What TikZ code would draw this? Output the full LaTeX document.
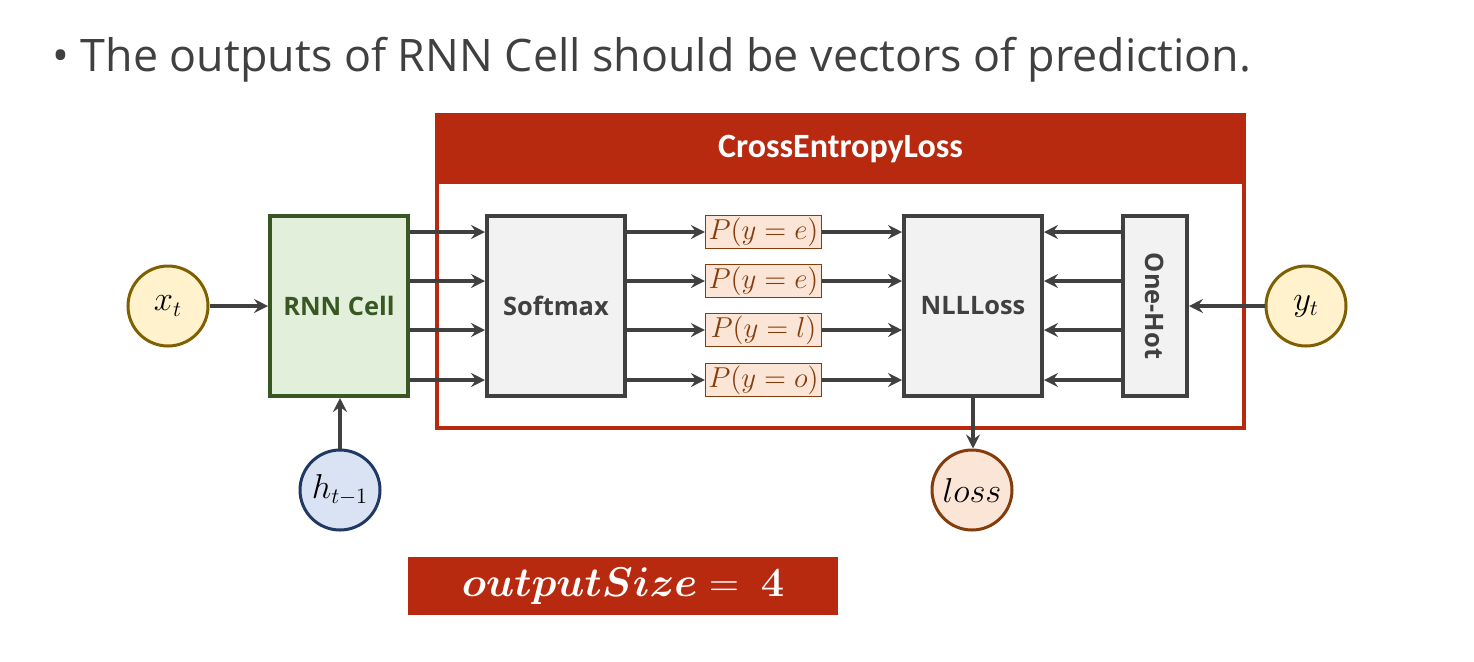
\documentclass[tikz,border=0pt]{standalone}
\usepackage{amsmath,amssymb}
\usepackage{bm}
\usepackage{fontspec}
\setmainfont{Open Sans}
\newfontfamily\headfont{Carlito}
\usetikzlibrary{arrows.meta,positioning,calc}
\definecolor{nnRed}{RGB}{184,42,16}
\definecolor{nnGray}{RGB}{64,64,64}
\definecolor{nnFill}{RGB}{242,242,242}
\definecolor{nnGreen}{RGB}{56,87,35}
\definecolor{nnGreenFill}{RGB}{226,239,218}
\definecolor{nnGold}{RGB}{127,96,0}
\definecolor{nnYellow}{RGB}{255,242,204}
\definecolor{nnNavy}{RGB}{31,56,100}
\definecolor{nnBlue}{RGB}{218,227,243}
\definecolor{nnBrown}{RGB}{132,60,12}
\definecolor{nnPeach}{RGB}{251,229,214}
\tikzset{
  nn/block/.style={draw=nnGray, fill=nnFill, line width=2pt, minimum width=69pt, minimum height=90pt, inner sep=0pt, align=center, text=nnGray, font=\fontsize{12.7}{15}\selectfont\bfseries},
  nn/cell/.style={nn/block, draw=nnGreen, fill=nnGreenFill, text=nnGreen},
  nn/var/.style={circle, line width=1.5pt, minimum size=40pt, inner sep=0pt, font=\fontsize{16}{18}\selectfont},
  nn/input/.style={nn/var, draw=nnGold, fill=nnYellow},
  nn/hidden/.style={nn/var, draw=nnNavy, fill=nnBlue},
  nn/output/.style={nn/var, draw=nnBrown, fill=nnPeach},
  nn/prob/.style={draw=nnBrown, fill=nnPeach, line width=0.6pt, minimum width=58pt, minimum height=16.5pt, inner sep=0pt, text=nnBrown, font=\fontsize{14}{16}\selectfont},
  nn/flow/.style={draw=nnGray, line width=1.8pt, -{Stealth[length=7pt,width=7pt,inset=2.5pt]}},
  nn/banner/.style={fill=nnRed, text=white, inner sep=0pt}
}
\begin{document}
\begin{tikzpicture}[x=0.5pt, y=-0.5pt]
  \useasboundingbox[fill=white] (0,0) rectangle (1474,661);

  % heading line
  \node[anchor=west, text=nnGray, inner sep=0pt, font=\fontsize{22.4}{26}\selectfont] (title) at (52,60)
    {\textbullet\ The outputs of RNN Cell should be vectors of prediction.};

  % loss module frame
  \node[draw=nnRed, line width=1.8pt, minimum width=403.5pt, minimum height=156.5pt] (ce) at (840.5,271.5) {};
  \node[nn/banner, anchor=north, minimum width=403.5pt, minimum height=35pt, font=\headfont\fontsize{17}{20}\selectfont\bfseries] (cehead) at (ce.north) {CrossEntropyLoss};

  % blocks
  \node[nn/input] (xt) at (168,306) {$x_t$};
  \node[nn/cell] (rnn) at (339,306) {RNN Cell};
  \node[nn/block] (soft) at (556,306) {Softmax};
  \node[nn/block] (nll) at (973,306) {NLLLoss};
  \node[nn/block, minimum width=32pt] (hot) at (1155,306) {\rotatebox{-90}{One-Hot}};
  \node[nn/input] (yt) at (1306,306) {$y_t$};
  \node[nn/hidden] (h) at (340,490) {$h_{t-1}$};
  \node[nn/output] (loss) at (972,490) {$loss$};

  % one probability per character
  \foreach \i/\yy/\ch in {1/232/e, 2/281/e, 3/330/l, 4/380/o} {
    \node[nn/prob] (p\i) at (763.5,\yy) {$P(y=\ch)$};
    \draw[nn/flow] (rnn.east |- p\i) -- (soft.west |- p\i);
    \draw[nn/flow] (soft.east |- p\i) -- (p\i);
    \draw[nn/flow] (p\i) -- (nll.west |- p\i);
    \draw[nn/flow] (hot.west |- p\i) -- (nll.east |- p\i);
  }

  \draw[nn/flow] (xt) -- (rnn);
  \draw[nn/flow] (yt) -- (hot);
  \draw[nn/flow] (h.north) -- (h.north |- rnn.south);
  \draw[nn/flow] (nll.south) -- (nll.south |- loss.north);

  \node[nn/banner, minimum width=215pt, minimum height=29pt, font=\fontsize{20}{24}\selectfont] (size) at (623,586)
    {$\bm{outputSize} = \ \bm{4}$};
\end{tikzpicture}
\end{document}
